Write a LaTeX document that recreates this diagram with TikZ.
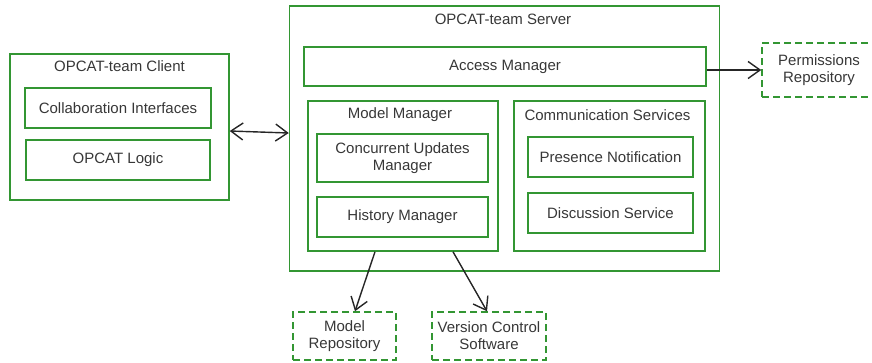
\documentclass[tikz,border=0pt]{standalone}
\usepackage{fontspec}
\setmainfont{Liberation Sans}
\usetikzlibrary{arrows.meta}
\definecolor{boxgreen}{RGB}{51,150,51}
\definecolor{labelgrey}{RGB}{55,55,55}

\begin{document}
\begin{tikzpicture}[x=1pt, y=-1pt,
    every node/.style={font=\fontsize{15}{17}\selectfont, text=labelgrey, inner sep=0pt},
    box/.style={draw=boxgreen, line width=1.5pt, align=center},
    store/.style={box, dash pattern=on 7pt off 4pt},
    link/.style={line width=1.4pt, draw=black!85, -{Straight Barb[length=12pt,width=17pt]}},
    twoway/.style={link, {Straight Barb[length=12pt,width=17pt]}-{Straight Barb[length=12pt,width=17pt]}}]
    \useasboundingbox (0,0) rectangle (872,362);

    % Client side
    \node[box, minimum width=219pt, minimum height=146pt] (client) at (119.5,127) {};
    \node (clienttitle) at (119.5,66) {OPCAT-team Client};
    \node[box, minimum width=186pt, minimum height=40pt] (collab) at (118,108) {Collaboration Interfaces};
    \node[box, minimum width=184pt, minimum height=40pt] (logic) at (118,160) {OPCAT Logic};

    % Server side
    \node[box, minimum width=430pt, minimum height=265pt] (server) at (504.5,138.5) {};
    \node (servertitle) at (503,19) {OPCAT-team Server};
    \node[box, minimum width=402pt, minimum height=39pt] (access) at (505,66.5) {Access Manager};

    \node[box, minimum width=190pt, minimum height=150pt] (model) at (403,176) {};
    \node (modeltitle) at (400,115) {Model Manager};
    \node[box, minimum width=171pt, minimum height=48pt] (concurrent) at (402.5,158) {Concurrent Updates\\Manager};
    \node[box, minimum width=171pt, minimum height=40pt] (history) at (402.5,217) {History Manager};

    \node[box, minimum width=191pt, minimum height=150pt] (comm) at (609.5,176) {};
    \node (commtitle) at (607.5,115) {Communication Services};
    \node[box, minimum width=165pt, minimum height=40pt] (presence) at (610.5,157) {Presence Notification};
    \node[box, minimum width=165pt, minimum height=40pt] (discussion) at (610.5,213) {Discussion Service};

    % Repositories
    \node[store, minimum width=114pt, minimum height=54pt] (perm) at (819,70) {Permissions\\Repository};
    \node[store, minimum width=103pt, minimum height=48pt] (modelrepo) at (344.5,336) {Model\\Repository};
    \node[store, minimum width=114pt, minimum height=48pt] (vcs) at (489,336) {Version Control\\Software};

    % Connections
    \draw[twoway] ([yshift=-4pt]client.east) -- ([yshift=5.5pt]server.west);
    \draw[link] ([yshift=-3.5pt]access.east) -- (perm.west);
    \draw[link] ([xshift=-28pt]model.south) -- ([xshift=10.5pt]modelrepo.north);
    \draw[link] ([xshift=50pt]model.south) -- ([xshift=-2pt]vcs.north);

\end{tikzpicture}
\end{document}
